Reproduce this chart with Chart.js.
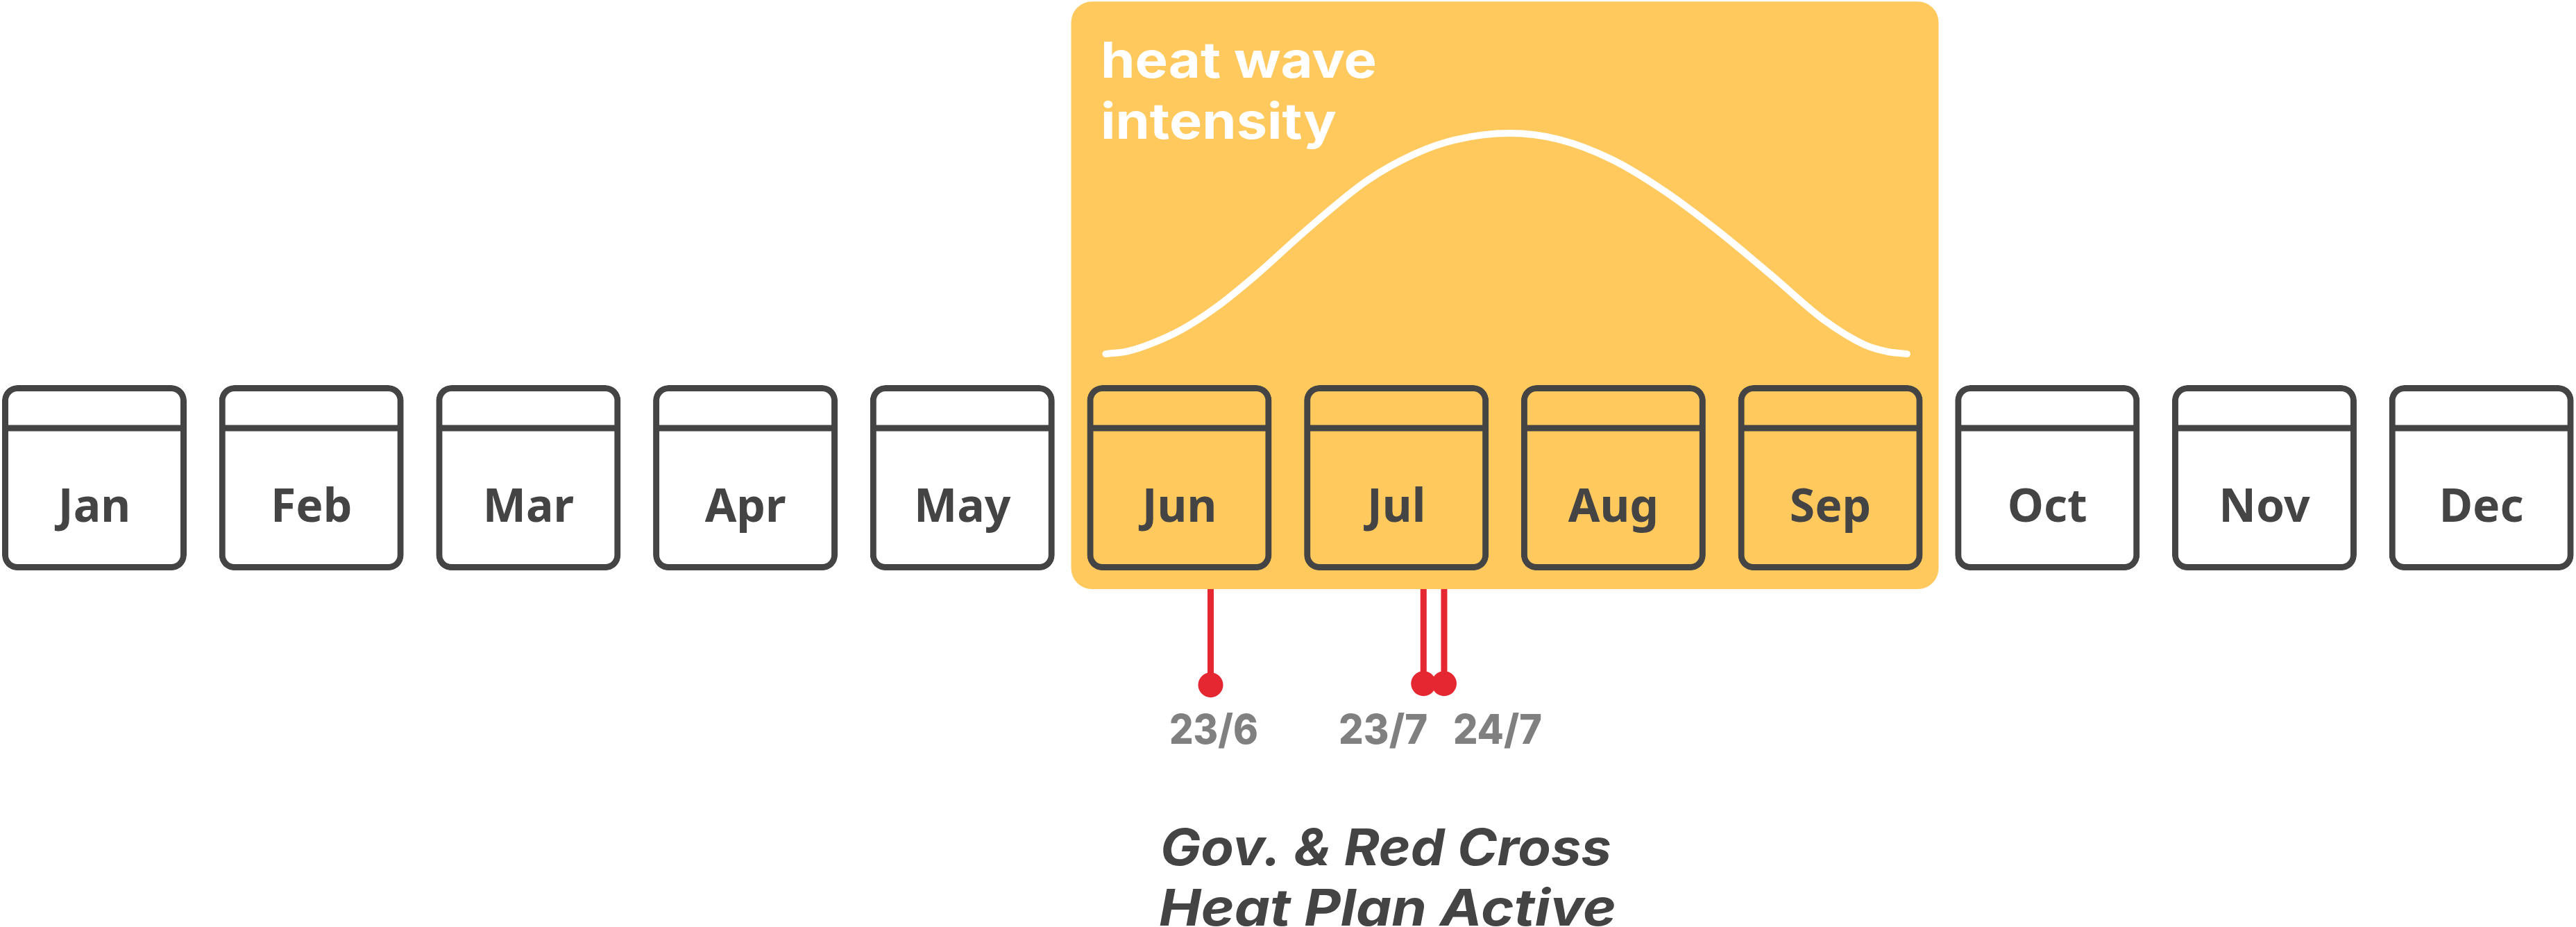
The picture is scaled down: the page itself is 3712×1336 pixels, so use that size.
<!DOCTYPE html>
<html>
<head>
<meta charset="utf-8">
<style>html,body{margin:0;padding:0;background:#fff}canvas{display:block}</style>
<script src="https://cdn.jsdelivr.net/npm/chart.js@4"></script>
</head>
<body>
<canvas id="c" width="3712" height="1336" style="width:3712px;height:1336px"></canvas>
<script>
// ---- data ----
const months = ['Jan','Feb','Mar','Apr','May','Jun','Jul','Aug','Sep','Oct','Nov','Dec'];
const monthCentres = [0.5,1.5,2.5,3.5,4.5,5.5,6.5,7.5,8.5,9.5,10.5,11.5];
const heatMonths = [5.161,5.26,5.363,5.510,5.668,5.852,6.072,6.366,6.586,6.770,7.024,7.249,7.494,7.739,7.983,8.229,8.473,8.657,8.76,8.853];
const heatIntensity = [0,1.2,4.4,11.0,21.0,35.6,55.0,78.6,90.7,97.0,100,97.2,88.1,73.6,55.7,35.6,15.2,4.2,1.1,0];
const activationMonths = [5.644,6.625,6.72];
const activationLabels = ['23/6','23/7','24/7'];
const activationLabelMonths = [5.658,6.439,6.966];
const activationLevels = [-150,-149.4,-149.4];
const heatSeasonSpan = [5,9];

// ---- layout in chart units ----
const yMin=-259.7, yMax=160.4, xMin=0.0651, xMax=11.936;
const cardTop=-14.15, cardBottom=-98.1, dividerTop=-32.2, dividerBottom=-35.0;
const panelTop=159.7, panelBottom=-106.6, monthAxisY=-55.2;
const INK='#444444', AMBER='#FFC95E', RED='#E52731', GREY='#808080';

const textPlugin = {
  id:'texts',
  afterDraw(chart){
    const {ctx,scales:{x}} = chart;
    const put=(t,px,base,font,color,width,centre)=>{
      ctx.save();
      ctx.font=font; ctx.fillStyle=color; ctx.textBaseline='alphabetic'; ctx.textAlign='left';
      const w=ctx.measureText(t).width;
      const sx=width/w;
      ctx.translate(centre?px-width/2:px,base);
      ctx.scale(sx,1);
      ctx.fillText(t,0,0);
      ctx.restore();
    };
    put('heat wave',1586,112,'700 72px Inter','#FFFFFF',398,false);
    put('intensity',1586,200,'700 72px Inter','#FFFFFF',340,false);
    activationLabels.forEach((t,i)=>put(t,x.getPixelForValue(activationLabelMonths[i]),1072,'800 59px Inter',GREY,128,true));
    put('Gov. & Red Cross',1672,1247,'italic 700 73px Inter',INK,650,false);
    put('Heat Plan Active',1670,1334,'italic 700 73px Inter',INK,659,false);
  }
};

new Chart(document.getElementById('c'),{
  type:'bar',
  plugins:[textPlugin],
  data:{datasets:[
    {type:'line',order:1,data:heatMonths.map((m,i)=>({x:m,y:heatIntensity[i]})),borderColor:'#FFFFFF',borderWidth:10,
     pointRadius:0,cubicInterpolationMode:'monotone',borderCapStyle:'round',fill:false},
    {order:2,grouped:false,data:monthCentres.map(m=>({x:m,y:[cardBottom,cardTop]})),barThickness:266,
     backgroundColor:'rgba(0,0,0,0)',borderColor:INK,borderWidth:9,borderRadius:22,borderSkipped:false,inflateAmount:0},
    {order:3,grouped:false,data:monthCentres.map(m=>({x:m,y:[dividerBottom,dividerTop]})),barThickness:262,
     backgroundColor:INK,borderWidth:0,inflateAmount:0},
    {type:'scatter',order:4,data:activationMonths.map((m,i)=>({x:m,y:activationLevels[i]})),showLine:false,
     backgroundColor:RED,borderWidth:0,pointRadius:18,pointHoverRadius:18},
    {order:5,grouped:false,data:activationMonths.map((m,i)=>({x:m,y:[activationLevels[i],panelBottom]})),barThickness:9,
     backgroundColor:RED,borderWidth:0,inflateAmount:0},
    {order:6,grouped:false,data:[{x:(heatSeasonSpan[0]+heatSeasonSpan[1])/2,y:[panelBottom,panelTop]}],barThickness:1250,
     backgroundColor:AMBER,borderWidth:0,borderRadius:30,borderSkipped:false,inflateAmount:0}
  ]},
  options:{
    responsive:false,animation:false,devicePixelRatio:1,
    layout:{padding:0,autoPadding:false},
    plugins:{legend:{display:false},tooltip:{enabled:false},title:{display:false}},
    scales:{
      x:{type:'linear',min:xMin,max:xMax,offset:false,position:{y:monthAxisY},
         grid:{display:false},border:{display:false},
         afterBuildTicks(s){s.ticks=monthCentres.map(v=>({value:v}));},
         afterFit(s){s.height=0;s.paddingLeft=0;s.paddingRight=0;},
         ticks:{z:5,autoSkip:false,maxRotation:0,minRotation:0,padding:0,color:INK,
                font:{family:'"Noto Sans"',size:66,weight:'700'},
                callback(v){return months[monthCentres.indexOf(v)];}}},
      y:{type:'linear',min:yMin,max:yMax,display:false}
    }
  }
});
</script>
</body>
</html>
